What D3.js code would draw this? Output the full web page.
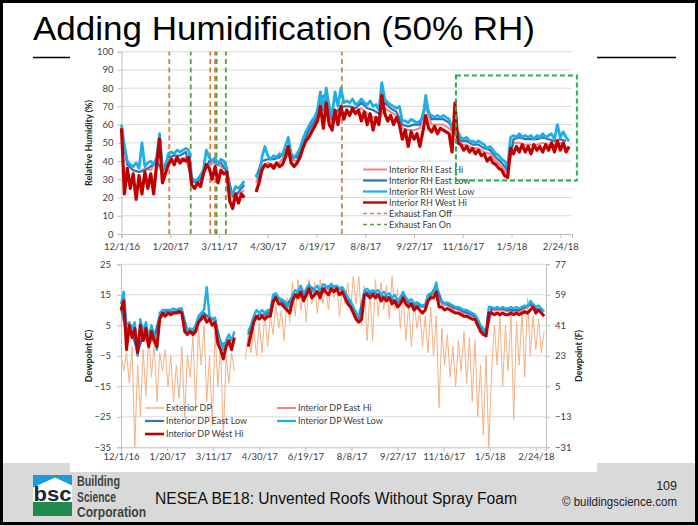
<!DOCTYPE html>
<html><head><meta charset="utf-8">
<script src="https://cdn.jsdelivr.net/npm/d3@7"></script>
<style>html,body{margin:0;padding:0;background:#fff;} svg{display:block;}</style>
</head><body>
<svg id="slide" width="698" height="526"></svg>
<script>
// ---- Data ---------------------------------------------------------------
// Series are sampled at a fixed number of days from the start date.
const startDate = "2016-12-01";
const tickDays = [0, 50, 100, 150, 200, 250, 300, 350, 400, 450];

// Relative humidity (%), every 3 days
const rhStep = 3;
const rhWestLow = [
  60,48,40,38,37,39,36,50,37,39,40,38,
  42,55,37,36,44,45,44,46,45,46,47,46,
  31,29,30,32,35,46,42,40,42,38,41,40,
  36,24,22,26,25,27,29,null,null,null,33,30,
  42,48,43,41,43,42,44,43,48,53,44,42,
  44,47,52,56,59,62,64,68,78,68,80,70,
  65,78,70,80,72,73,72,74,71,72,74,72,
  71,73,70,71,68,83,74,72,71,70,69,70,
  62,62,61,63,62,61,62,63,76,66,65,64,
  65,64,65,64,63,58,57,56,53,52,53,51,
  51,50,51,50,49,47,48,46,44,43,41,40,
  37,53,54,53,55,53,54,53,54,52,54,53,
  55,53,54,55,52,60,53,56,53,51
];
const rhWestHi = [
  58,22,36,25,33,19,32,22,34,25,33,22,
  38,52,28,33,38,41,38,42,39,41,40,42,
  27,25,28,26,33,38,36,30,37,28,35,33,
  34,18,14,22,17,22,20,null,null,null,23,28,
  35,38,37,38,36,39,37,38,42,48,39,37,
  39,42,47,51,53,56,59,62,70,58,72,60,
  57,68,60,70,63,68,65,69,66,68,62,67,
  60,66,57,64,60,76,66,62,65,60,64,60,
  52,57,48,56,52,55,48,56,65,58,56,59,
  55,58,57,56,55,45,72,50,49,46,48,45,
  47,44,46,43,44,40,42,39,38,36,35,32,
  31,47,44,48,45,49,45,48,44,49,46,48,
  45,49,46,50,45,51,46,50,45,48
];
// East sensors, every 6 days
const eastStep = 6;
const rhEastLow = [
  58,38,35,34,35,37,40,35,42,43,43,45,
  29,28,33,40,40,39,34,21,23,27,null,31,
  40,41,41,42,46,42,42,50,57,62,74,77,
  63,68,70,70,69,72,69,68,66,72,69,67,
  60,59,60,60,72,63,63,63,61,56,51,51,
  49,49,47,46,42,39,35,52,53,52,52,52,
  53,52,51,52,51
];
const rhEastHi = [
  56,38,35,34,36,35,40,33,40,41,41,42,
  29,30,35,38,39,37,35,20,22,24,null,28,
  37,39,38,39,44,41,40,48,55,60,72,74,
  60,64,66,67,67,69,66,64,63,69,67,65,
  58,57,57,58,70,60,60,60,58,55,49,49,
  47,47,45,44,40,37,33,50,50,49,49,49,
  50,49,49,50,48
];
// Exhaust fan switching days
const fanOffDays = [49, 91, 96, 226];
const fanOnDays = [71, 97.5, 107];
// Highlighted humidification period: [day from, day to], [RH low, RH high]
const humidDays = [343, 467];
const humidRH = [29.3, 87];

// Dewpoint (C), every 3 days
const dpStep = 3;
const dpExterior = [
  -5,-10,-4,-14,-2,-35,-8,-25,-3,-18,2,-12,
  -1,-20,-4,-10,-3,-15,-5,-20,-8,-19,-2,-25,
  -5,-12,2,-22,4,-8,5,-20,-5,-28,3,-15,
  -2,-32,-5,-14,-4,-10,null,null,null,-6,2,-4,
  4,-5,6,-4,9,-2,8,2,12,4,10,0,
  14,6,19,8,20,10,17,6,20,12,19,9,
  20,12,18,10,19,14,18,8,17,12,19,10,
  21,12,21,5,18,0,16,0,20,8,19,10,
  18,7,21,10,17,4,15,0,12,-2,13,4,
  10,-2,8,-4,11,-5,8,-22,4,-8,2,-12,
  -2,-15,0,-10,3,-14,1,-20,0,-25,-8,-31,
  -5,-35,-10,5,-8,8,-15,5,-10,9,-26,6,
  -8,10,-12,14,-5,8,-3,7,-4,3
];
const dpWestHi = [
  10,13,-3,5,1,4,-4,5,0,4,-2,3,
  0,-2,7,9,8,9,8.5,9,9,9.5,9,3,
  2,3,2,3,6,7,8,6,7,5,6,-1,
  -3,-6,-2,0,-3,1,null,null,null,null,-2,2,
  6,8,7,8,7,8,8,13,14,12,12,11,
  10,9,13,15,14,16,13,15,17,14,15,16,
  14,17,16,15,17,16,17,15,16,14,12,11,
  9,7,6,7,15,15,14,15,14,15,13,14,
  13,14,12,13,11,12,14,12,11,12,10,11,
  10,9,10,13,14,14,16,11,11,10,10.5,10,
  9.5,9,9,8.5,8,8,7.5,7,7,5,3,2,
  1.5,9,9,8.5,9,8.5,9,8.5,8.5,9,8.5,9,
  8.5,9,9.5,9,10,11,9,10,9,8
];
const dpWestLow = [
  12,16,5,6,4,6,-5,7,3,6,1,5,
  2,-3,9,10,10,10,10,10.5,10,10.5,10.5,4,
  3.5,4,3.5,5,8,9,10,17.5,8,7,7.5,1,
  0,-3,0,2,0,3,null,null,null,null,3,5,
  8,10,9,10,9,10,10,15,15.5,14,13.5,13,
  12,11,15,16.5,16,18,15,17,18.5,16,17,18,
  16,18.5,18,17,18.5,17.5,18,17,17.5,16,14,13,
  11,9,8,8.5,16.5,17,16,16.5,16,16.5,15,16,
  15,15.5,14,15,13,14,16,14,13,13.5,12,12.5,
  12,11,12,15,15.5,16,19,13,13,12,12.5,12,
  11.5,11,11,10.5,10,10,9.5,9,8.5,7,5,4,
  3,11,11,10.5,11,10.5,11,10.5,10.5,11,10.5,11,
  10.5,11,11.5,11,13,12,11,11.5,10.5,9.5
];
const dpEastLow = [
  11,4,3,-4,2,0,1,8,9.5,9.5,9.5,10,
  3,3,7,9,7.5,7,-1,-1,-1,null,null,2,
  7,8.5,8.5,9.5,15,13,11.5,14.5,15.5,14.5,18,16.5,
  15.5,17.5,18,17.5,17,13.5,10.5,7.5,16,15.5,15.5,14.5,
  14.5,13.5,12.5,15.5,12.5,11.5,11.5,11.5,15,18,12.5,12,
  11,10.5,9.5,9,8,4.5,2.5,10.5,10.5,10.5,10,10,
  10,11,12,10.5,10
];
const dpEastHi = [
  10,2,2,-3,1,-1,0.5,7.5,8.5,9,9,9.5,
  2.5,2.5,6.5,8.5,7,6.5,-2,-1.5,-2,null,null,0,
  6.5,7.5,7.5,8.5,14.5,12.5,10.5,14,14.5,14,17.5,15.5,
  15,16.5,17.5,17,16.5,12.5,9.5,6.5,15.5,15,15,14,
  14,13,12,15,12,11,11,11,14.5,17,12,11.5,
  10.5,10,9,8.5,7.5,4,2,10,10,10,9.5,9.5,
  9.5,10.5,11.5,10,9.5
];

// Axis ticks
const rhTicks = [0,10,20,30,40,50,60,70,80,90,100];
const dpTicksC = [-35,-25,-15,-5,5,15,25];
const dpTicksF = [-31,-13,5,23,41,59,77];

// ---- Drawing ------------------------------------------------------------
const t0 = new Date(startDate + "T00:00:00Z");
const dayDate = d => new Date(t0.getTime() + d * 864e5);
const fmt = d3.utcFormat("%-m/%-d/%y");
const toPoints = (vals, step) => vals.map((v, i) => ({ d: dayDate(i * step), v }));

const svg = d3.select("#slide");
const CHART_FONT = "Lato, 'Open Sans', sans-serif";
const SLIDE_FONT = "'Liberation Sans', Arial, sans-serif";
const GRID = "#d9d9d9", AXIS = "#bfbfbf", LABEL = "#404040";

svg.append("rect").attr("width", 698).attr("height", 526).attr("fill", "#fff");
// footer band
svg.append("rect").attr("x", 0).attr("y", 463).attr("width", 698).attr("height", 63).attr("fill", "#d9d9d9");
// rule under the title
svg.append("line").attr("x1", 33).attr("x2", 676).attr("y1", 57.5).attr("y2", 57.5)
  .attr("stroke", "#000").attr("stroke-width", 1.5);
// chart panel
svg.append("rect").attr("x", 70).attr("y", 48).attr("width", 527).attr("height", 424).attr("fill", "#fff");

svg.append("text").attr("x", 33).attr("y", 40)
  .attr("font-family", SLIDE_FONT).attr("font-size", 34).attr("fill", "#000")
  .attr("textLength", 502).attr("lengthAdjust", "spacingAndGlyphs")
  .text("Adding Humidification (50% RH)");

function styleAxis(g) {
  g.select(".domain").attr("stroke", AXIS);
  g.selectAll(".tick line").attr("stroke", AXIS);
  g.selectAll(".tick text").attr("fill", LABEL).attr("font-family", CHART_FONT).attr("font-size", 9.5);
}

// ===== Relative humidity chart =====
const xTop = d3.scaleUtc().domain([dayDate(0), dayDate(462)]).range([121.5, 572]);
const yTop = d3.scaleLinear().domain([0, 100]).range([234, 51.7]);

svg.append("g").selectAll("line").data(rhTicks.filter(t => t > 0)).join("line")
  .attr("x1", xTop.range()[0]).attr("x2", xTop.range()[1])
  .attr("y1", d => yTop(d)).attr("y2", d => yTop(d))
  .attr("stroke", GRID).attr("stroke-width", 1);

svg.append("g").attr("transform", `translate(0,${yTop(0)})`)
  .call(d3.axisBottom(xTop).tickValues(tickDays.map(dayDate)).tickFormat(fmt).tickSize(4).tickPadding(5))
  .call(styleAxis);
svg.append("g").attr("transform", `translate(${xTop.range()[0]},0)`)
  .call(d3.axisLeft(yTop).tickValues(rhTicks).tickSize(4).tickPadding(4))
  .call(styleAxis);

svg.append("text").attr("transform", `translate(92,143) rotate(-90)`)
  .attr("text-anchor", "middle").attr("font-family", CHART_FONT).attr("font-weight", 700)
  .attr("font-size", 9).attr("fill", "#262626").text("Relative Humidity (%)");

// exhaust fan switching
const fanLines = svg.append("g");
fanLines.selectAll("line.off").data(fanOffDays).join("line").attr("class", "off")
  .attr("x1", d => xTop(dayDate(d))).attr("x2", d => xTop(dayDate(d)))
  .attr("y1", yTop(0)).attr("y2", yTop(100))
  .attr("stroke", "#e07b39").attr("stroke-width", 1.8).attr("stroke-dasharray", "5,3.5");
fanLines.selectAll("line.on").data(fanOnDays).join("line").attr("class", "on")
  .attr("x1", d => xTop(dayDate(d))).attr("x2", d => xTop(dayDate(d)))
  .attr("y1", yTop(0)).attr("y2", yTop(100))
  .attr("stroke", "#5f9a3c").attr("stroke-width", 1.8).attr("stroke-dasharray", "5,3.5");

const lineTop = d3.line().defined(p => p.v != null).x(p => xTop(p.d)).y(p => yTop(p.v));
const rhSeries = [
  { vals: rhEastHi, step: eastStep, color: "#ff7c80", w: 2 },
  { vals: rhEastLow, step: eastStep, color: "#2e75b6", w: 2.2 },
  { vals: rhWestLow, step: rhStep, color: "#1eaee8", w: 2.8 },
  { vals: rhWestHi, step: rhStep, color: "#c00000", w: 3.2 }
];
rhSeries.forEach(s => {
  svg.append("path").datum(toPoints(s.vals, s.step)).attr("d", lineTop)
    .attr("fill", "none").attr("stroke", s.color).attr("stroke-width", s.w)
    .attr("stroke-linejoin", "round");
});

// legend
const topLegend = [
  { name: "Interior RH East Hi", color: "#ff7c80", dash: null, w: 2 },
  { name: "Interior RH East Low", color: "#2e75b6", dash: null, w: 2.2 },
  { name: "Interior RH West Low", color: "#1eaee8", dash: null, w: 2.2 },
  { name: "Interior RH West Hi", color: "#c00000", dash: null, w: 2.4 },
  { name: "Exhaust Fan Off", color: "#e07b39", dash: "4,3", w: 1.4 },
  { name: "Exhaust Fan On", color: "#5f9a3c", dash: "4,3", w: 1.4 }
];
const tl = svg.append("g").selectAll("g").data(topLegend).join("g")
  .attr("transform", (d, i) => `translate(363,${169.5 + i * 11})`);
tl.append("line").attr("x1", 0).attr("x2", 24).attr("stroke", d => d.color)
  .attr("stroke-width", d => d.w).attr("stroke-dasharray", d => d.dash);
tl.append("text").attr("x", 26).attr("y", 3.3).attr("font-family", CHART_FONT)
  .attr("font-size", 9).attr("fill", LABEL).text(d => d.name);

// humidification period
svg.append("rect")
  .attr("x", xTop(dayDate(humidDays[0]))).attr("y", yTop(humidRH[1]))
  .attr("width", xTop(dayDate(humidDays[1])) - xTop(dayDate(humidDays[0])))
  .attr("height", yTop(humidRH[0]) - yTop(humidRH[1]))
  .attr("fill", "none").attr("stroke", "#22b14c").attr("stroke-width", 2).attr("stroke-dasharray", "5,3");

// ===== Dewpoint chart =====
const xBot = d3.scaleUtc().domain([dayDate(0), dayDate(461)]).range([121, 546]);
const yBot = d3.scaleLinear().domain([-35, 25]).range([447.3, 264.3]);
const yBotF = d3.scaleLinear().domain([-31, 77]).range([447.3, 264.3]);

svg.append("g").selectAll("line").data(dpTicksC.filter(t => t > -35)).join("line")
  .attr("x1", xBot.range()[0]).attr("x2", xBot.range()[1])
  .attr("y1", d => yBot(d)).attr("y2", d => yBot(d))
  .attr("stroke", GRID).attr("stroke-width", 1);

svg.append("g").attr("transform", `translate(0,${yBot(-35)})`)
  .call(d3.axisBottom(xBot).tickValues(tickDays.map(dayDate)).tickFormat(fmt).tickSize(4).tickPadding(2))
  .call(styleAxis);
svg.append("g").attr("transform", `translate(${xBot.range()[0]},0)`)
  .call(d3.axisLeft(yBot).tickValues(dpTicksC).tickSize(4).tickPadding(6))
  .call(styleAxis);
svg.append("g").attr("transform", `translate(${xBot.range()[1]},0)`)
  .call(d3.axisRight(yBotF).tickValues(dpTicksF).tickSize(4).tickPadding(5))
  .call(styleAxis);

svg.append("text").attr("transform", `translate(92,356) rotate(-90)`)
  .attr("text-anchor", "middle").attr("font-family", CHART_FONT).attr("font-weight", 700)
  .attr("font-size", 9).attr("fill", "#262626").text("Dewpoint (C)");
svg.append("text").attr("transform", `translate(582,356) rotate(-90)`)
  .attr("text-anchor", "middle").attr("font-family", CHART_FONT).attr("font-weight", 700)
  .attr("font-size", 9).attr("fill", "#262626").text("Dewpoint (F)");

const lineBot = d3.line().defined(p => p.v != null).x(p => xBot(p.d)).y(p => yBot(p.v));
const dpSeries = [
  { vals: dpExterior, step: dpStep, color: "#f4b183", w: 1 },
  { vals: dpEastHi, step: eastStep, color: "#ff7c80", w: 2 },
  { vals: dpEastLow, step: eastStep, color: "#2e75b6", w: 2.4 },
  { vals: dpWestLow, step: dpStep, color: "#1eaee8", w: 2.4 },
  { vals: dpWestHi, step: dpStep, color: "#c00000", w: 3 }
];
dpSeries.forEach(s => {
  svg.append("path").datum(toPoints(s.vals, s.step)).attr("d", lineBot)
    .attr("fill", "none").attr("stroke", s.color).attr("stroke-width", s.w)
    .attr("stroke-linejoin", "round");
});

const botLegend = [
  { name: "Exterior DP", color: "#f4b183", w: 1.4, col: 0, row: 0 },
  { name: "Interior DP East Hi", color: "#ff7c80", w: 2, col: 1, row: 0 },
  { name: "Interior DP East Low", color: "#2e75b6", w: 2.2, col: 0, row: 1 },
  { name: "Interior DP West Low", color: "#1eaee8", w: 2.2, col: 1, row: 1 },
  { name: "Interior DP West Hi", color: "#c00000", w: 2.6, col: 0, row: 2 }
];
const bl = svg.append("g").selectAll("g").data(botLegend).join("g")
  .attr("transform", d => `translate(${d.col ? 277 : 145},${408 + d.row * 13})`);
bl.append("line").attr("x1", 0).attr("x2", 19).attr("stroke", d => d.color).attr("stroke-width", d => d.w);
bl.append("text").attr("x", 21).attr("y", 3.3).attr("font-family", CHART_FONT)
  .attr("font-size", 9).attr("fill", LABEL).text(d => d.name);

// ===== Footer =====
const logo = svg.append("g");
logo.append("rect").attr("x", 33).attr("y", 475).attr("width", 39).attr("height", 14).attr("fill", "#1b9bd7");
logo.append("polygon").attr("points", "33,489 33,487.5 55,477.5 72,485.5 72,489").attr("fill", "#fff");
logo.append("rect").attr("x", 33).attr("y", 489).attr("width", 39).attr("height", 13).attr("fill", "#fff");
logo.append("rect").attr("x", 33).attr("y", 502).attr("width", 39).attr("height", 14).attr("fill", "#1f8a4c");
logo.append("text").attr("x", 33.5).attr("y", 500.5).attr("font-family", SLIDE_FONT).attr("font-weight", 700)
  .attr("font-size", 21).attr("fill", "#1d2633").attr("textLength", 38).attr("lengthAdjust", "spacingAndGlyphs").text("bsc");

const bscName = [["Building", 486, 43], ["Science", 501.5, 39], ["Corporation", 517, 69]];
svg.append("g").selectAll("text").data(bscName).join("text")
  .attr("x", 77).attr("y", d => d[1]).attr("font-family", SLIDE_FONT).attr("font-weight", 700)
  .attr("font-size", 14.5).attr("fill", "#3a4640")
  .attr("textLength", d => d[2]).attr("lengthAdjust", "spacingAndGlyphs").text(d => d[0]);

svg.append("text").attr("x", 155).attr("y", 503.5).attr("font-family", SLIDE_FONT)
  .attr("font-size", 16).attr("fill", "#111").attr("textLength", 362).attr("lengthAdjust", "spacingAndGlyphs")
  .text("NESEA BE18: Unvented Roofs Without Spray Foam");
svg.append("text").attr("x", 677).attr("y", 490).attr("text-anchor", "end").attr("font-family", SLIDE_FONT)
  .attr("font-size", 12.5).attr("fill", "#222").text("109");
svg.append("text").attr("x", 677).attr("y", 505.5).attr("text-anchor", "end").attr("font-family", SLIDE_FONT)
  .attr("font-size", 12.5).attr("fill", "#222").attr("textLength", 115).attr("lengthAdjust", "spacingAndGlyphs")
  .text("© buildingscience.com");

// slide frame
svg.append("rect").attr("x", 1.5).attr("y", 1.5).attr("width", 695).attr("height", 522)
  .attr("fill", "none").attr("stroke", "#000").attr("stroke-width", 3);
</script>
</body></html>
